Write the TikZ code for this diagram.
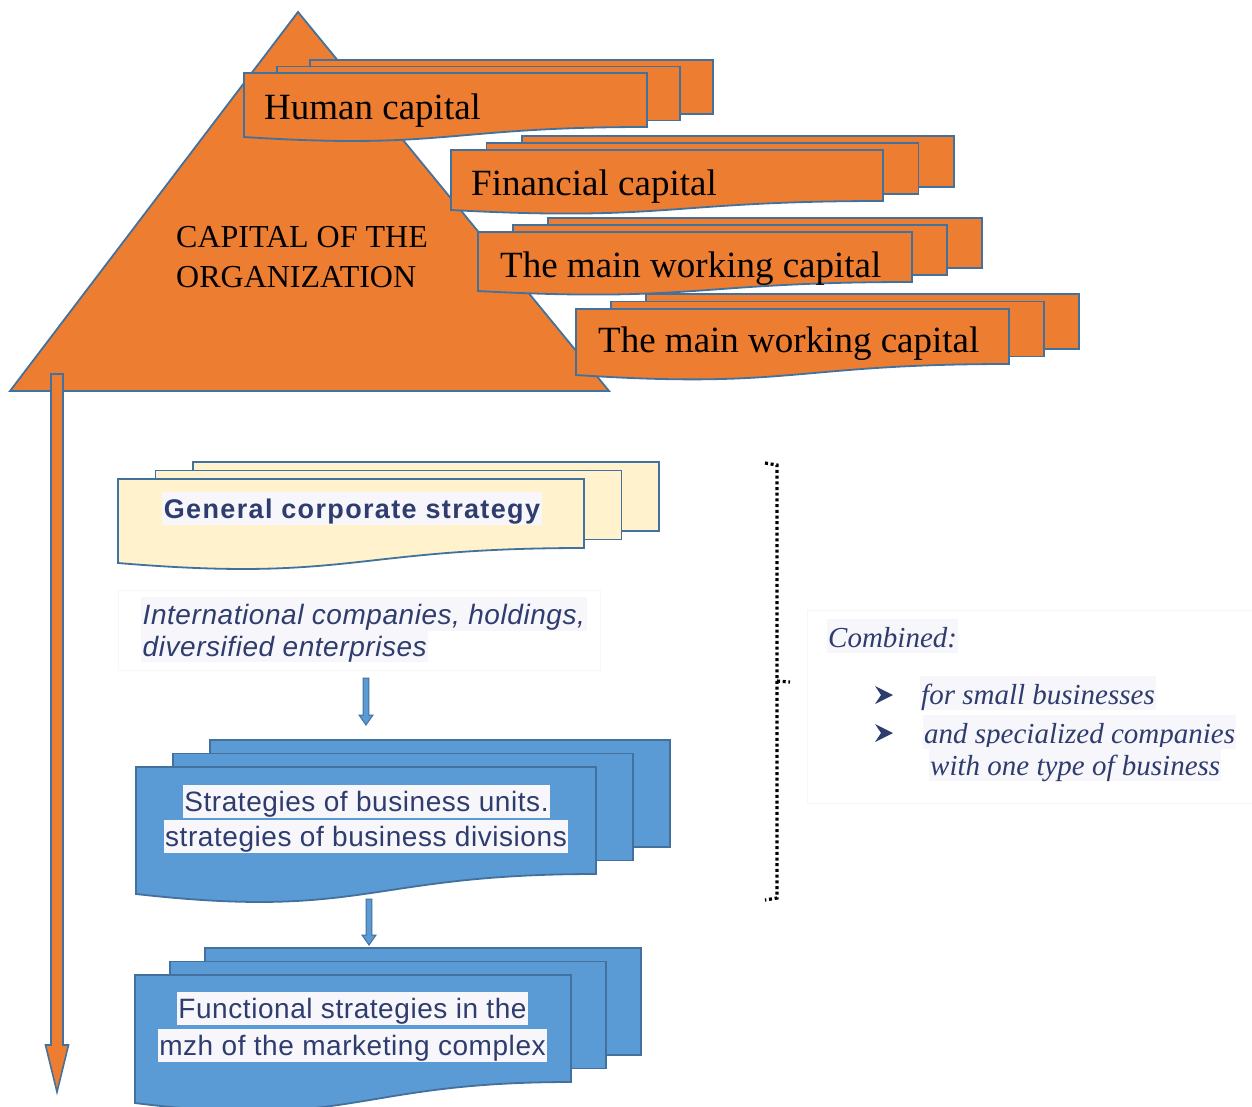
\documentclass[tikz,border=0pt]{standalone}
\usepackage{fontspec}
\setmainfont{Liberation Serif}
\newfontfamily\labelsans[LetterSpace=2]{Liberation Sans}
\newfontfamily\titlesans[LetterSpace=5]{Liberation Sans}
\usetikzlibrary{calc}

\definecolor{orangefill}{HTML}{ED7D31}
\definecolor{edgeblue}{HTML}{41719C}
\definecolor{bluefill}{HTML}{5B9BD5}
\definecolor{creamfill}{HTML}{FFF2CC}
\definecolor{inkblue}{HTML}{2F3C6E}
\definecolor{hl}{HTML}{F6F6FB}

% A stack of three documents: two plain sheets behind a front sheet with a wavy lower edge.
% #1 name, #2 left, #3 top, #4 right, #5 lower right, #6 lower left, #7 dx, #8 dy, #9 fill
\newcommand\dstack[9]{%
  \foreach \k in {2,1}{%
    \draw[stackedge, fill=#9] ({#2+\k*#7},{#3-\k*#8}) rectangle ({#4+\k*#7},{#5-\k*#8});
  }%
  \draw[stackedge, fill=#9] (#2,#3) -- (#4,#3) -- (#4,#5)
     .. controls ({(#2+#4)/2},#5) and ({(#2+#4)/2},{#6+1.3*(#6-#5)}) .. (#2,#6) -- cycle;
  \coordinate (#1-nw) at (#2,#3);
  \coordinate (#1-se) at (#4,#5);
}

% Block arrow between two named points (vertical, pointing down).
% #1 style, #2 from, #3 to, #4 shaft half width, #5 head half width, #6 head length
\newcommand\blockarrow[6]{%
  \path[#1] let \p1=(#2), \p2=(#3) in
    (\x1-#4pt,\y1) -- (\x1+#4pt,\y1) -- (\x1+#4pt,\y2+#6pt) -- (\x1+#5pt,\y2+#6pt)
    -- (\x2,\y2) -- (\x1-#5pt,\y2+#6pt) -- (\x1-#4pt,\y2+#6pt) -- cycle;
}

\begin{document}
\begin{tikzpicture}[x=1pt,y=-1pt,
  stackedge/.style={draw=edgeblue, line width=1.8pt, line join=miter},
  toptext/.style={inner sep=0pt, anchor=base west, text=black, font=\fontsize{37}{44}\selectfont},
  hlbox/.style={fill=hl, inner xsep=1.5pt, inner ysep=0pt, text=inkblue, text height=26pt, text depth=7pt},
  unitfont/.style={font=\labelsans\fontsize{28}{34}\selectfont},
  combfont/.style={font=\itshape\fontsize{29}{34}\selectfont, text height=28pt, text depth=6pt},
  dotline/.style={draw=black, line width=3.2pt, dash pattern=on 3pt off 2.7pt},
  orangearrow/.style={fill=orangefill, draw=edgeblue, line width=1.6pt, line join=miter},
  bluearrow/.style={fill=bluefill, draw=edgeblue, line width=1pt, line join=miter}]

\useasboundingbox (0,0) rectangle (1252,1106);
\fill[white] (0,0) rectangle (1252,1106);

% Pyramid of the organisation's capital
\coordinate (apex) at (298,12);
\coordinate (baseR) at (609,391);
\coordinate (baseL) at (10,391);
\draw[stackedge, fill=orangefill] (apex) -- (baseR) -- (baseL) -- cycle;
\node[toptext, font=\fontsize{32}{38}\selectfont] (cap1) at (176,247) {CAPITAL OF THE};
\node[toptext, font=\fontsize{32}{38}\selectfont] (cap2) at (176,287) {ORGANIZATION};

% Kinds of capital
\dstack{hum}{244}{73}{647}{127}{137}{33}{6.5}{orangefill}
\node[toptext] (humt) at (264,119) {Human capital};
\dstack{fin}{451}{150}{883}{201}{210}{35.5}{7}{orangefill}
\node[toptext] (fint) at (471,195) {Financial capital};
\dstack{mwa}{478}{232}{912}{282}{291}{35}{7}{orangefill}
\node[toptext] (mwat) at (500,277) {The main working capital};
\dstack{mwb}{576}{309}{1009}{364}{375}{35}{7.5}{orangefill}
\node[toptext] (mwbt) at (598,352) {The main working capital};

% Long downward arrow on the left
\coordinate (longtop) at (57,374);
\coordinate (longtip) at (57,1092);
\blockarrow{orangearrow}{longtop}{longtip}{6}{11.5}{47}

% Corporate level
\dstack{gcs}{118}{479}{584}{548}{563}{37.5}{8.5}{creamfill}
\node[hlbox, anchor=base, font=\titlesans\bfseries\fontsize{27}{31}\selectfont] (gcst) at (352,518) {General corporate strategy};

\draw[draw=black!3] (118,590) rectangle (600,670);
\node[hlbox, anchor=base west, font=\labelsans\itshape\fontsize{28}{34}\selectfont, text height=27pt] (int1) at (141,624) {International companies, holdings,};
\node[hlbox, anchor=base west, font=\labelsans\itshape\fontsize{28}{34}\selectfont, text height=25pt, text depth=6pt] (int2) at (141,656) {diversified enterprises};

\coordinate (a1s) at (366,678);
\coordinate (a1e) at (366,725);
\blockarrow{bluearrow}{a1s}{a1e}{2.8}{7}{10}

% Business units
\dstack{sbu}{136}{767}{596}{874}{894}{37}{13.5}{bluefill}
\node[hlbox, anchor=base, unitfont] (sbu1) at (366.5,811) {Strategies of business units.};
\node[hlbox, anchor=base, unitfont] (sbu2) at (366,846) {strategies of business divisions};

\coordinate (a2s) at (369,899);
\coordinate (a2e) at (369,945);
\blockarrow{bluearrow}{a2s}{a2e}{2.8}{7}{10}

% Functional level
\dstack{fun}{135}{975}{571}{1082}{1103}{35}{13.5}{bluefill}
\node[hlbox, anchor=base, unitfont] (fun1) at (352.5,1018) {Functional strategies in the};
\node[hlbox, anchor=base, unitfont] (fun2) at (352.5,1055) {mzh of the marketing complex};

% Dotted brace
\coordinate (brA) at (765,463);
\coordinate (brB) at (777,465);
\coordinate (brM) at (777,681);
\coordinate (brT) at (790,682);
\coordinate (brC) at (777,898);
\coordinate (brD) at (765,900);
\draw[dotline] (brA) -- (brB) -- (brC) -- (brD);
\draw[dotline] (brM) -- (brT);

% Combined forms
\draw[draw=black!3, fill=white] (807,610) rectangle (1252,803);
\node[hlbox, anchor=base west, combfont, inner xsep=1pt] (comb) at (827,647) {Combined:};
\coordinate (b1) at (875,695);
\coordinate (b2) at (875,733);
\foreach \b in {b1,b2}{
  \fill[inkblue] ($(\b)+(0,-9)$) -- ($(\b)+(18,0)$) -- ($(\b)+(0,9)$) -- ($(\b)+(6,0)$) -- cycle;
}
\node[hlbox, anchor=base west, combfont, inner xsep=1pt] (it1) at (920,704) {for small businesses};
\node[hlbox, anchor=base west, combfont, inner xsep=1pt] (it2) at (923,743) {and specialized companies};
\node[hlbox, anchor=base west, combfont, inner xsep=1pt] (it3) at (929,775) {with one type of business};

\end{tikzpicture}
\end{document}
